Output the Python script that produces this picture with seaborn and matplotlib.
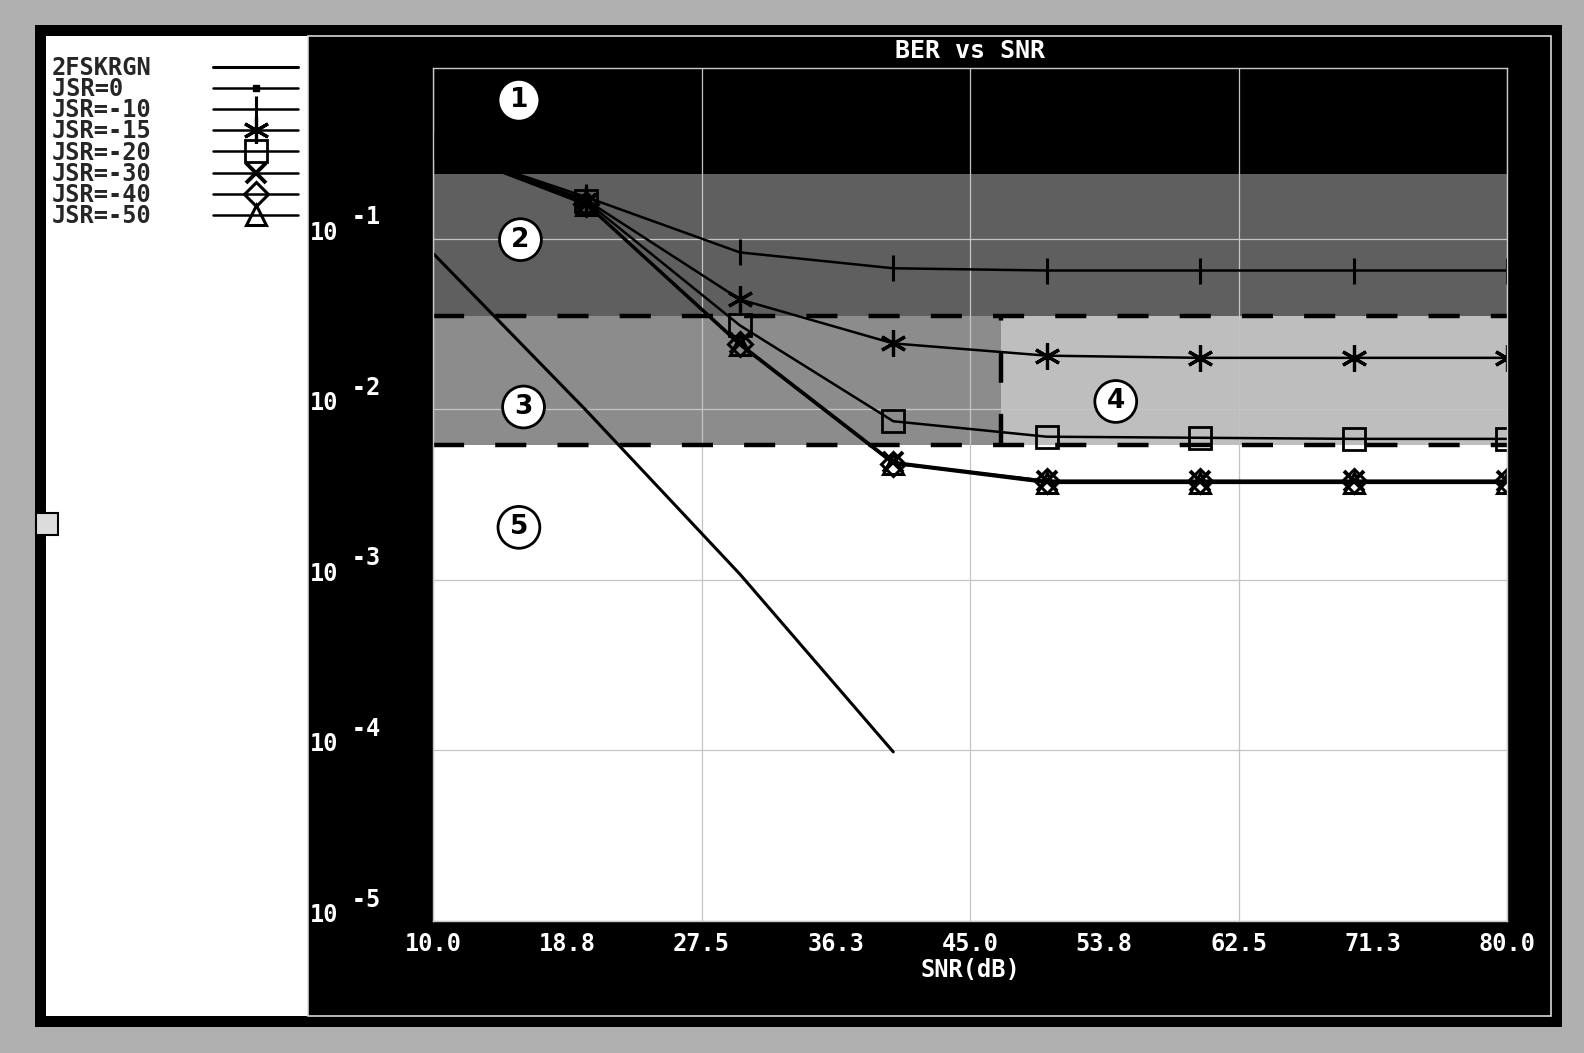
import matplotlib
matplotlib.use("Agg")
import matplotlib.pyplot as plt
import seaborn as sns
from matplotlib.patches import Rectangle
from matplotlib.ticker import NullLocator
from matplotlib.transforms import ScaledTranslation

# values
snr = [10, 20, 30, 40, 50, 60, 70, 80]
ber_jsr0 = [0.45, 0.42, 0.40, 0.39, 0.39, 0.39, 0.39, 0.39]
ber_jsr10 = [0.35, 0.175, 0.083, 0.067, 0.065, 0.065, 0.065, 0.065]
ber_jsr15 = [0.35, 0.168, 0.044, 0.0243, 0.0206, 0.020, 0.020, 0.020]
ber_jsr20 = [0.35, 0.165, 0.031, 0.0085, 0.0069, 0.0068, 0.0067, 0.0067]
ber_jsr30 = [0.35, 0.160, 0.0243, 0.0049, 0.0038, 0.0038, 0.0038, 0.0038]
ber_jsr40 = [0.35, 0.160, 0.0240, 0.0048, 0.0038, 0.0038, 0.0038, 0.0038]
ber_jsr50 = [0.35, 0.158, 0.0238, 0.0048, 0.0037, 0.0037, 0.0037, 0.0037]

snr_theory = [10, 20, 30, 40]
ber_theory = [0.082, 0.0098, 0.00108, 0.000098]

# shaded regions: BER limits and the SNR where region 3 turns into region 4
region_ber = [0.24, 0.035, 0.0062]
region_snr_split = 47

region_names = ["1", "2", "3", "4", "5"]
region_label_x = [15.6, 15.7, 15.9, 54.5, 15.6]
region_label_y = [0.647, 0.0986, 0.0103, 0.0111, 0.00203]

xtick_major = [10, 27.5, 45, 62.5, 80]
xtick_major_labels = ["10.0", "27.5", "45.0", "62.5", "80.0"]
xtick_minor = [18.75, 36.25, 53.75, 71.25]
xtick_minor_labels = ["18.8", "36.3", "53.8", "71.3"]
ytick_vals = [1e-5, 1e-4, 1e-3, 1e-2, 1e-1]
ytick_exps = ["-5", "-4", "-3", "-2", "-1"]

sns.set_style("white")
plt.rcParams['font.family'] = ['DejaVu Sans Mono', 'DejaVu Sans']
plt.rcParams['font.weight'] = 'bold'

W, H = 1584, 1053


def panel(x0, y0, x1, y1, **kw):
    # rectangle given in screenshot pixels, drawn behind the axes
    r = Rectangle((x0 / W, 1 - y1 / H), (x1 - x0) / W, (y1 - y0) / H,
                  transform=fig.transFigure, zorder=-5, **kw)
    fig.add_artist(r)


fig = plt.figure(figsize=(15.84, 10.53), dpi=100, facecolor='#b0b0b0')

# window frame, legend panel, plot panel
panel(35, 25, 1562, 1027, fc='black', ec='none')
panel(46, 36, 308, 1016, fc='white', ec='none')
panel(308, 36, 1551, 1016, fc='black', ec='#d8d8d8', lw=1.2)
panel(36, 513, 58, 535, fc='#dcdcdc', ec='black', lw=1.5)

ax = fig.add_axes((433 / W, 1 - 921 / H, (1507 - 433) / W, (921 - 68) / H))
ax.set_facecolor('white')
ax.set_yscale('log')
ax.set_xlim(10, 80)
ax.set_ylim(1e-5, 1)

# regions 1-5
ax.axhspan(region_ber[0], 1, color='black', lw=0, zorder=0.2)
ax.axhspan(region_ber[1], region_ber[0], color='#5f5f5f', lw=0, zorder=0.2)
ax.fill_between([10, region_snr_split], region_ber[2], region_ber[1],
                color='#8c8c8c', lw=0, zorder=0.2)
ax.fill_between([region_snr_split, 80], region_ber[2], region_ber[1],
                color='#bebebe', lw=0, zorder=0.2)
dash = dict(color='black', lw=3.2, dashes=(7, 7), zorder=1.5)
ax.plot([10, 80], [region_ber[1]] * 2, **dash)
ax.plot([10, 80], [region_ber[2]] * 2, **dash)
ax.plot([region_snr_split] * 2, [region_ber[2], region_ber[1]], **dash)

# curves
sns.lineplot(x=snr_theory, y=ber_theory, ax=ax, color='black', lw=2.2,
             label='2FSKRGN')
series = [
    ('JSR=0\u00a0\u00a0', ber_jsr0, 's', 5, 'black', 1.0, 0.3),
    ('JSR=-10', ber_jsr10, '|', 19, 'black', 2.2, 2),
    ('JSR=-15', ber_jsr15, (6, 2, 0), 19, 'black', 2.3, 2),
    ('JSR=-20', ber_jsr20, 's', 16, 'none', 2.0, 2),
    ('JSR=-30', ber_jsr30, 'x', 15, 'black', 2.8, 2),
    ('JSR=-40', ber_jsr40, 'D', 12, 'none', 2.2, 2),
    ('JSR=-50', ber_jsr50, '^', 14, 'none', 2.2, 2),
]
for name, vals, mk, ms, mfc, mew, z in series:
    sns.lineplot(x=snr, y=vals, ax=ax, color='black', lw=1.8, marker=mk,
                 markersize=ms, markerfacecolor=mfc, mec='black', mew=mew,
                 label=name, zorder=z)

if ax.get_legend() is not None:
    ax.get_legend().remove()

# region numbers
for name, x, y in zip(region_names, region_label_x, region_label_y):
    ax.text(x, y, name, ha='center', va='center', fontsize=19, weight='bold',
            family='DejaVu Sans', color='black', zorder=6,
            bbox=dict(boxstyle='circle,pad=0.3', fc='white', ec='black', lw=2))

# grid / axes
ax.set_axisbelow(True)
ax.xaxis.set_major_locator(plt.FixedLocator(xtick_major))
ax.xaxis.set_minor_locator(plt.FixedLocator(xtick_minor))
ax.set_xticklabels(xtick_major_labels)
ax.set_xticklabels(xtick_minor_labels, minor=True)
ax.set_yticks(ytick_vals)
ax.yaxis.set_minor_locator(NullLocator())
ax.set_yticklabels(["   " + e + "\n10" for e in ytick_exps])
ax.grid(True, which='major', color='#c4c4c4', lw=0.9)
for s in ax.spines.values():
    s.set_color('#c8c8c8')
    s.set_linewidth(1)

ax.tick_params(which='both', direction='out', colors='white', length=5, width=1.3)
ax.tick_params(axis='x', which='both', labelsize=17, pad=3)
ax.tick_params(axis='y', labelsize=17, pad=84)
shift_down = ScaledTranslation(0, -0.06, fig.dpi_scale_trans)
for lab in ax.get_yticklabels():
    lab.set_ha('left')
    lab.set_va('bottom')
    lab.set_linespacing(0.55)
    lab.set_transform(lab.get_transform() + shift_down)

ax.set_title('BER vs SNR', color='white', fontsize=18, weight='bold', pad=7)
ax.set_xlabel('SNR(dB)', color='white', fontsize=17, weight='bold', labelpad=1)
ax.set_ylabel('')

# legend in the white side panel
handles, labels = ax.get_legend_handles_labels()
fig.legend(handles, labels, loc='upper left', bbox_to_anchor=(52 / W, 1 - 56 / H),
           frameon=False, markerfirst=False, numpoints=1,
           prop=dict(family='DejaVu Sans Mono', weight='bold', size=17),
           labelspacing=-0.12, handlelength=3.6, handletextpad=2.6,
           borderpad=0, borderaxespad=0)

fig.savefig('out.png', dpi=100, facecolor=fig.get_facecolor())
